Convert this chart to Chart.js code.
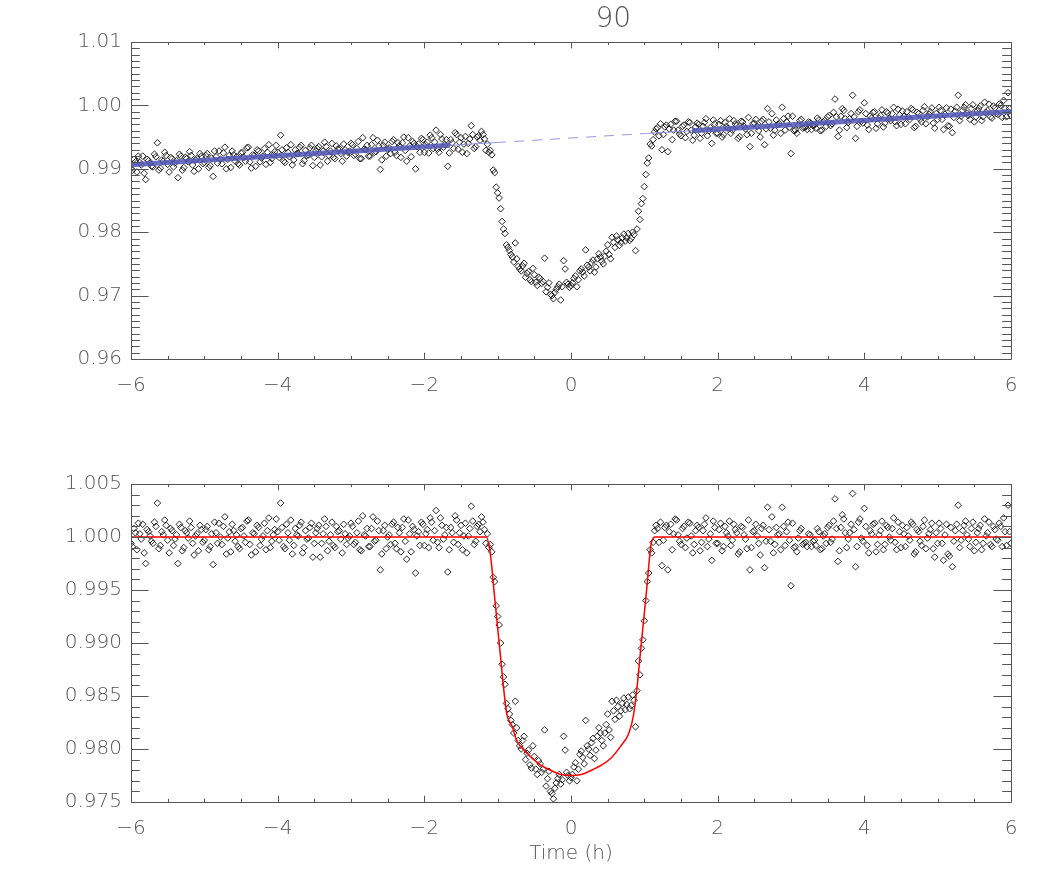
<!DOCTYPE html>
<html><head><meta charset="utf-8">
<script src="https://cdn.jsdelivr.net/npm/chart.js@4.4.1/dist/chart.umd.min.js"></script>
<style>
html,body{margin:0;padding:0;background:#fff;}
#wrap{position:relative;width:1050px;height:886px;background:#fff;}
.box{position:absolute;left:0;width:1050px;}
</style></head><body>
<div id="wrap">
<div class="box" style="top:0;height:420px"><canvas id="c1" width="1050" height="420"></canvas></div>
<div class="box" style="top:440px;height:446px"><canvas id="c2" width="1050" height="446"></canvas></div>
</div>
<script>
// ---------- data ----------
const chartTitle = '90';
const xAxisTitle = 'Time (h)';

// exposure set A
const timesA = [
-6,-5.96,-5.92,-5.88,-5.84,-5.8,-5.76,-5.72,-5.68,-5.64,-5.6,-5.56,-5.52,-5.48,-5.44,-5.4,-5.36,-5.32,-5.28,-5.24,-5.2,-5.16,-5.12,-5.08,-5.04,
-5,-4.96,-4.92,-4.88,-4.84,-4.8,-4.76,-4.72,-4.68,-4.64,-4.6,-4.56,-4.52,-4.48,-4.44,-4.4,-4.36,-4.32,-4.28,-4.24,-4.2,-4.16,-4.12,-4.08,-4.04,
-4,-3.96,-3.92,-3.88,-3.84,-3.8,-3.76,-3.72,-3.68,-3.64,-3.6,-3.56,-3.52,-3.48,-3.44,-3.4,-3.36,-3.32,-3.28,-3.24,-3.2,-3.16,-3.12,-3.08,-3.04,
-3,-2.96,-2.92,-2.88,-2.84,-2.8,-2.76,-2.72,-2.68,-2.64,-2.6,-2.56,-2.52,-2.48,-2.44,-2.4,-2.36,-2.32,-2.28,-2.24,-2.2,-2.16,-2.12,-2.08,-2.04,
-2,-1.96,-1.92,-1.88,-1.84,-1.8,-1.76,-1.72,-1.68,-1.64,-1.6,-1.56,-1.52,-1.48,-1.44,-1.4,-1.36,-1.32,-1.28,-1.24,-1.2,
-1.16,-1.12,-1.08,-1.04,-1,-0.96,-0.92,-0.88,-0.84,-0.8,-0.76,-0.72,-0.68,-0.64,-0.6,-0.56,-0.52,-0.48,-0.44,-0.4,-0.36,-0.32,-0.28,-0.24,-0.2,-0.16,-0.12,-0.08,-0.04,
0,0.04,0.08,0.12,0.16,0.2,0.24,0.28,0.32,0.36,0.4,0.44,0.48,0.52,0.56,0.6,0.64,0.68,0.72,0.76,0.8,0.84,0.88,0.92,0.96,1,1.04,1.08,1.12,1.16,
1.2,1.24,1.28,1.32,1.36,1.4,1.44,1.48,1.52,1.56,1.6,1.64,1.68,1.72,1.76,1.8,1.84,1.88,1.92,1.96,2,2.04,2.08,2.12,2.16,
2.2,2.24,2.28,2.32,2.36,2.4,2.44,2.48,2.52,2.56,2.6,2.64,2.68,2.72,2.76,2.8,2.84,2.88,2.92,2.96,3,3.04,3.08,3.12,3.16,
3.2,3.24,3.28,3.32,3.36,3.4,3.44,3.48,3.52,3.56,3.6,3.64,3.68,3.72,3.76,3.8,3.84,3.88,3.92,3.96,4,4.04,4.08,4.12,4.16,
4.2,4.24,4.28,4.32,4.36,4.4,4.44,4.48,4.52,4.56,4.6,4.64,4.68,4.72,4.76,4.8,4.84,4.88,4.92,4.96,5,5.04,5.08,5.12,5.16,
5.2,5.24,5.28,5.32,5.36,5.4,5.44,5.48,5.52,5.56,5.6,5.64,5.68,5.72,5.76,5.8,5.84,5.88,5.92,5.96,6
];
const rawFluxA = [
0.9900,0.9915,0.9895,0.9910,0.9920,0.9883,0.9913,0.9904,0.9923,0.9941,0.9901,0.9912,0.9921,0.9895,0.9916,0.9909,0.9886,0.9920,0.9902,0.9916,0.9927,0.9906,0.9914,0.9900,0.9920,
0.9910,0.9924,0.9905,0.9888,0.9919,0.9928,0.9908,0.9934,0.9915,0.9902,0.9922,0.9919,0.9906,0.9926,0.9912,0.9934,0.9901,0.9921,0.9930,0.9911,0.9920,0.9907,0.9938,0.9916,0.9927,
0.9926,0.9953,0.9912,0.9933,0.9919,0.9906,0.9930,0.9924,0.9937,0.9913,0.9921,0.9933,0.9905,0.9928,0.9935,0.9919,0.9942,0.9912,0.9928,0.9918,0.9936,0.9932,0.9912,0.9930,0.9926,
0.9940,0.9921,0.9932,0.9916,0.9949,0.9930,0.9920,0.9938,0.9926,0.9945,0.9899,0.9937,0.9920,0.9933,0.9943,0.9926,0.9941,0.9918,0.9950,0.9912,0.9936,0.9943,0.9900,0.9939,0.9948,
0.9926,0.9942,0.9953,0.9932,0.9961,0.9926,0.9947,0.9938,0.9904,0.9946,0.9932,0.9954,0.9942,0.9926,0.9951,0.9940,0.9968,0.9932,0.9950,0.9945,0.9954,
0.9929,0.9926,0.9922,0.9894,0.9862,0.9837,0.9805,0.9780,0.9771,0.9761,0.9783,0.9746,0.9739,0.9751,0.9735,0.9725,0.9743,0.9721,0.9729,0.9719,0.9759,0.9713,0.9702,0.9695,0.9710,0.9718,0.9714,0.9742,0.9718,
0.9716,0.9727,0.9714,0.9739,0.9737,0.9772,0.9745,0.9752,0.9737,0.9758,0.9761,0.9750,0.9770,0.9765,0.9792,0.9776,0.9788,0.9784,0.9797,0.9791,0.9787,0.9800,0.9771,0.9833,0.9845,0.9872,0.9909,0.9939,0.9946,0.9963,
0.9952,0.9930,0.9966,0.9927,0.9970,0.9961,0.9975,0.9955,0.9967,0.9949,0.9974,0.9961,0.9953,0.9972,0.9948,0.9967,0.9979,0.9960,0.9940,0.9971,0.9956,0.9976,0.9954,0.9967,0.9979,
0.9961,0.9971,0.9948,0.9975,0.9967,0.9954,0.9935,0.9971,0.9978,0.9960,0.9975,0.9938,0.9995,0.9964,0.9953,0.9977,0.9971,0.9997,0.9961,0.9983,0.9924,0.9960,0.9956,0.9976,0.9964,
0.9966,0.9974,0.9962,0.9969,0.9980,0.9960,0.9974,0.9967,0.9984,0.9971,1.0010,0.9951,0.9983,0.9992,0.9965,0.9979,1.0016,0.9948,0.9990,0.9975,1.0004,0.9969,0.9983,0.9989,0.9964,
0.9980,0.9993,0.9972,0.9988,0.9976,0.9997,0.9968,0.9985,0.9991,0.9971,0.9982,0.9995,0.9965,0.9989,0.9978,0.9992,0.9971,0.9986,0.9996,0.9964,0.9978,0.9992,0.9962,0.9996,0.9967,
0.9957,0.9991,1.0016,0.9983,0.9997,0.9988,0.9978,1.0001,0.9982,0.9995,0.9976,1.0005,0.9992,0.9982,0.9999,0.9987,1.0002,0.9981,0.9995,1.0020,0.9984
];
const normFluxA = [
0.9994,1.0008,0.9988,1.0003,1.0012,0.9975,1.0005,0.9996,1.0014,1.0032,0.9992,1.0002,1.0011,0.9985,1.0006,0.9998,0.9975,1.0009,0.9990,1.0004,1.0015,0.9994,1.0001,0.9987,1.0007,
0.9997,1.0010,0.9991,0.9974,1.0004,1.0013,0.9993,1.0019,0.9999,0.9986,1.0006,1.0002,0.9989,1.0009,0.9995,1.0016,0.9983,1.0003,1.0011,0.9992,1.0001,0.9988,1.0018,0.9996,1.0007,
1.0005,1.0032,0.9991,1.0012,0.9997,0.9984,1.0008,1.0001,1.0014,0.9990,0.9998,1.0009,0.9981,1.0004,1.0011,0.9994,1.0017,0.9987,1.0002,0.9992,1.0010,1.0006,0.9985,1.0003,0.9999,
1.0013,0.9993,1.0004,0.9988,1.0020,1.0001,0.9991,1.0008,0.9996,1.0015,0.9969,1.0006,0.9989,1.0002,1.0012,0.9994,1.0009,0.9986,1.0017,0.9979,1.0003,1.0010,0.9966,1.0005,1.0014,
0.9992,1.0007,1.0018,0.9997,1.0025,0.9990,1.0011,1.0002,0.9967,1.0009,0.9995,1.0016,1.0004,0.9988,1.0013,1.0001,1.0029,0.9993,1.0010,1.0005,1.0014,
0.9994,0.9990,0.9986,0.9958,0.9925,0.9900,0.9868,0.9843,0.9833,0.9823,0.9845,0.9808,0.9800,0.9812,0.9796,0.9785,0.9803,0.9781,0.9789,0.9778,0.9818,0.9772,0.9760,0.9753,0.9768,0.9776,0.9771,0.9799,0.9775,
0.9773,0.9783,0.9770,0.9795,0.9792,0.9827,0.9800,0.9806,0.9791,0.9812,0.9815,0.9803,0.9823,0.9818,0.9845,0.9828,0.9840,0.9836,0.9848,0.9842,0.9838,0.9851,0.9821,0.9883,0.9895,0.9921,0.9958,0.9988,0.9995,1.0011,
0.9995,0.9973,1.0009,0.9969,1.0012,1.0003,1.0016,0.9996,1.0008,0.9990,1.0014,1.0001,0.9993,1.0011,0.9987,1.0006,1.0018,0.9998,0.9978,1.0009,0.9994,1.0013,0.9991,1.0004,1.0015,
0.9997,1.0007,0.9984,1.0010,1.0002,0.9989,0.9969,1.0005,1.0012,0.9994,1.0008,0.9971,1.0028,0.9996,0.9985,1.0009,1.0003,1.0028,0.9992,1.0014,0.9954,0.9990,0.9986,1.0006,0.9993,
0.9995,1.0003,0.9991,0.9997,1.0008,0.9988,1.0001,0.9994,1.0011,0.9998,1.0036,0.9977,1.0009,1.0017,0.9990,1.0004,1.0041,0.9972,1.0014,0.9999,1.0027,0.9992,1.0006,1.0012,0.9986,
1.0002,1.0015,0.9993,1.0009,0.9997,1.0018,0.9988,1.0005,1.0011,0.9991,1.0001,1.0014,0.9984,1.0007,0.9996,1.0010,0.9989,1.0003,1.0013,0.9981,0.9994,1.0008,0.9978,1.0012,0.9982,
0.9972,1.0006,1.0030,0.9997,1.0011,1.0002,0.9991,1.0014,0.9995,1.0008,0.9988,1.0017,1.0004,0.9993,1.0010,0.9998,1.0013,0.9991,1.0005,1.0030,0.9994
];

// exposure set B
const timesB = [
-5.98,-5.94,-5.9,-5.86,-5.82,-5.78,-5.74,-5.7,-5.66,-5.62,-5.58,-5.54,-5.5,-5.46,-5.42,-5.38,-5.34,-5.3,-5.26,-5.22,-5.18,-5.14,-5.1,-5.06,-5.02,
-4.98,-4.94,-4.9,-4.86,-4.82,-4.78,-4.74,-4.7,-4.66,-4.62,-4.58,-4.54,-4.5,-4.46,-4.42,-4.38,-4.34,-4.3,-4.26,-4.22,-4.18,-4.14,-4.1,-4.06,-4.02,
-3.98,-3.94,-3.9,-3.86,-3.82,-3.78,-3.74,-3.7,-3.66,-3.62,-3.58,-3.54,-3.5,-3.46,-3.42,-3.38,-3.34,-3.3,-3.26,-3.22,-3.18,-3.14,-3.1,-3.06,-3.02,
-2.98,-2.94,-2.9,-2.86,-2.82,-2.78,-2.74,-2.7,-2.66,-2.62,-2.58,-2.54,-2.5,-2.46,-2.42,-2.38,-2.34,-2.3,-2.26,-2.22,-2.18,-2.14,-2.1,-2.06,-2.02,
-1.98,-1.94,-1.9,-1.86,-1.82,-1.78,-1.74,-1.7,-1.66,-1.62,-1.58,-1.54,-1.5,-1.46,-1.42,-1.38,-1.34,-1.3,-1.26,-1.22,-1.18,
-1.14,-1.1,-1.06,-1.02,-0.98,-0.94,-0.9,-0.86,-0.82,-0.78,-0.74,-0.7,-0.66,-0.62,-0.58,-0.54,-0.5,-0.46,-0.42,-0.38,-0.34,-0.3,-0.26,-0.22,-0.18,-0.14,-0.1,-0.06,-0.02,
0.02,0.06,0.1,0.14,0.18,0.22,0.26,0.3,0.34,0.38,0.42,0.46,0.5,0.54,0.58,0.62,0.66,0.7,0.74,0.78,0.82,0.86,0.9,0.94,0.98,1.02,1.06,1.1,1.14,
1.18,1.22,1.26,1.3,1.34,1.38,1.42,1.46,1.5,1.54,1.58,1.62,1.66,1.7,1.74,1.78,1.82,1.86,1.9,1.94,1.98,2.02,2.06,2.1,2.14,
2.18,2.22,2.26,2.3,2.34,2.38,2.42,2.46,2.5,2.54,2.58,2.62,2.66,2.7,2.74,2.78,2.82,2.86,2.9,2.94,2.98,3.02,3.06,3.1,3.14,
3.18,3.22,3.26,3.3,3.34,3.38,3.42,3.46,3.5,3.54,3.58,3.62,3.66,3.7,3.74,3.78,3.82,3.86,3.9,3.94,3.98,4.02,4.06,4.1,4.14,
4.18,4.22,4.26,4.3,4.34,4.38,4.42,4.46,4.5,4.54,4.58,4.62,4.66,4.7,4.74,4.78,4.82,4.86,4.9,4.94,4.98,5.02,5.06,5.1,5.14,
5.18,5.22,5.26,5.3,5.34,5.38,5.42,5.46,5.5,5.54,5.58,5.62,5.66,5.7,5.74,5.78,5.82,5.86,5.9,5.94,5.98
];
const rawFluxB = [
0.9898,0.9911,0.9920,0.9906,0.9893,0.9915,0.9909,0.9903,0.9919,0.9898,0.9914,0.9926,0.9907,0.9918,0.9903,0.9913,0.9923,0.9898,0.9918,0.9911,0.9921,0.9896,0.9916,0.9924,0.9908,
0.9921,0.9902,0.9917,0.9928,0.9909,0.9915,0.9925,0.9900,0.9921,0.9928,0.9912,0.9908,0.9925,0.9918,0.9933,0.9911,0.9922,0.9904,0.9928,0.9917,0.9932,0.9926,0.9910,0.9922,0.9937,
0.9918,0.9930,0.9910,0.9926,0.9938,0.9914,0.9924,0.9934,0.9908,0.9929,0.9922,0.9937,0.9918,0.9932,0.9906,0.9928,0.9935,0.9921,0.9940,0.9916,0.9931,0.9924,0.9939,0.9920,0.9928,
0.9938,0.9923,0.9943,0.9916,0.9931,0.9937,0.9920,0.9949,0.9927,0.9936,0.9914,0.9942,0.9931,0.9924,0.9946,0.9921,0.9936,0.9941,0.9929,0.9949,0.9919,0.9940,0.9935,0.9926,0.9946,
0.9938,0.9925,0.9949,0.9942,0.9931,0.9954,0.9934,0.9946,0.9925,0.9941,0.9957,0.9931,0.9949,0.9939,0.9924,0.9947,0.9954,0.9935,0.9952,0.9959,0.9947,
0.9939,0.9929,0.9898,0.9871,0.9854,0.9817,0.9798,0.9776,0.9765,0.9753,0.9758,0.9742,0.9747,0.9729,0.9738,0.9722,0.9733,0.9716,0.9727,0.9722,0.9706,0.9720,0.9700,0.9705,0.9714,0.9693,0.9755,0.9721,0.9713,
0.9720,0.9731,0.9725,0.9742,0.9731,0.9748,0.9739,0.9756,0.9745,0.9766,0.9754,0.9762,0.9780,0.9758,0.9784,0.9794,0.9779,0.9791,0.9786,0.9798,0.9790,0.9796,0.9805,0.9820,0.9853,0.9891,0.9917,0.9936,0.9958,
0.9965,0.9971,0.9954,0.9969,0.9963,0.9946,0.9975,0.9961,0.9952,0.9969,0.9959,0.9973,0.9945,0.9966,0.9970,0.9956,0.9973,0.9952,0.9965,0.9977,0.9956,0.9970,0.9950,0.9973,0.9964,
0.9956,0.9976,0.9968,0.9951,0.9974,0.9963,0.9981,0.9956,0.9972,0.9967,0.9950,0.9978,0.9963,0.9974,0.9987,0.9961,0.9970,0.9956,0.9979,0.9974,0.9966,0.9983,0.9961,0.9969,0.9978,
0.9965,0.9962,0.9973,0.9968,0.9964,0.9977,0.9961,0.9976,0.9982,0.9968,0.9989,0.9982,0.9961,0.9995,0.9979,0.9973,0.9987,0.9982,0.9967,0.9993,0.9972,0.9987,0.9962,0.9980,0.9990,
0.9971,0.9984,0.9966,0.9990,0.9979,0.9987,0.9974,0.9994,0.9970,0.9983,0.9990,0.9978,0.9993,0.9967,0.9987,0.9974,0.9998,0.9982,0.9990,0.9972,0.9987,0.9997,0.9978,0.9986,0.9968,
0.9994,0.9981,0.9997,0.9976,0.9992,1.0001,0.9984,0.9995,0.9974,0.9991,0.9999,0.9982,0.9989,1.0002,0.9980,0.9996,0.9986,1.0000,1.0008,0.9982,0.9995
];
const normFluxB = [
0.9991,1.0004,1.0013,0.9998,0.9985,1.0007,1.0001,0.9994,1.0010,0.9989,1.0005,1.0016,0.9997,1.0008,0.9992,1.0002,1.0012,0.9987,1.0006,0.9999,1.0009,0.9983,1.0003,1.0011,0.9995,
1.0007,0.9988,1.0003,1.0014,0.9994,1.0000,1.0010,0.9984,1.0005,1.0012,0.9996,0.9991,1.0008,1.0001,1.0015,0.9993,1.0004,0.9986,1.0009,0.9998,1.0013,1.0006,0.9990,1.0002,1.0017,
0.9997,1.0009,0.9989,1.0004,1.0016,0.9992,1.0002,1.0011,0.9985,1.0006,0.9999,1.0013,0.9994,1.0008,0.9981,1.0003,1.0010,0.9996,1.0014,0.9990,1.0005,0.9998,1.0012,0.9993,1.0001,
1.0010,0.9995,1.0015,0.9987,1.0002,1.0008,0.9991,1.0019,0.9997,1.0006,0.9984,1.0011,1.0000,0.9993,1.0014,0.9989,1.0004,1.0009,0.9996,1.0016,0.9986,1.0007,1.0001,0.9992,1.0012,
1.0003,0.9990,1.0014,1.0006,0.9995,1.0018,0.9998,1.0009,0.9988,1.0004,1.0020,0.9993,1.0011,1.0001,0.9985,1.0008,1.0015,0.9996,1.0012,1.0019,1.0007,
1.0003,0.9993,0.9962,0.9935,0.9917,0.9880,0.9861,0.9838,0.9827,0.9815,0.9820,0.9803,0.9808,0.9790,0.9799,0.9782,0.9793,0.9776,0.9786,0.9781,0.9765,0.9779,0.9758,0.9763,0.9772,0.9767,0.9812,0.9778,0.9770,
0.9776,0.9787,0.9781,0.9798,0.9786,0.9803,0.9794,0.9810,0.9799,0.9820,0.9808,0.9815,0.9833,0.9811,0.9836,0.9846,0.9831,0.9843,0.9837,0.9849,0.9841,0.9846,0.9855,0.9870,0.9903,0.9940,0.9966,0.9985,1.0006,
1.0008,1.0014,0.9997,1.0011,1.0005,0.9988,1.0017,1.0002,0.9993,1.0010,0.9999,1.0013,0.9985,1.0006,1.0009,0.9995,1.0012,0.9991,1.0003,1.0015,0.9994,1.0007,0.9987,1.0010,1.0001,
0.9992,1.0012,1.0004,0.9986,1.0009,0.9998,1.0016,0.9990,1.0006,1.0001,0.9983,1.0011,0.9996,1.0007,1.0019,0.9993,1.0002,0.9988,1.0010,1.0005,0.9997,1.0013,0.9991,0.9999,1.0008,
0.9994,0.9991,1.0002,0.9996,0.9992,1.0005,0.9989,1.0003,1.0009,0.9995,1.0015,1.0008,0.9987,1.0021,1.0004,0.9998,1.0012,1.0007,0.9991,1.0017,0.9996,1.0010,0.9985,1.0003,1.0013,
0.9993,1.0006,0.9988,1.0011,1.0000,1.0008,0.9995,1.0014,0.9990,1.0003,1.0009,0.9997,1.0012,0.9986,1.0005,0.9992,1.0016,0.9999,1.0007,0.9989,1.0004,1.0013,0.9994,1.0002,0.9984,
1.0009,0.9996,1.0012,0.9990,1.0006,1.0015,0.9998,1.0008,0.9987,1.0004,1.0011,0.9994,1.0001,1.0014,0.9991,1.0007,0.9997,1.0010,1.0018,0.9992,1.0005
];

// linear baseline fit (top panel)
const fitTimesLeft  = [-6, -1.65];
const fitLeft       = [0.99065, 0.99370];
const fitTimesRight = [1.65, 6];
const fitRight      = [0.99601, 0.99905];
const gapTimesLeft  = [-1.65, -1.02];
const gapLeft       = [0.99370, 0.99414];
const gapTimesMid   = [-1.02, 1.04];
const gapMid        = [0.99414, 0.99558];
const gapTimesRight = [1.04, 1.65];
const gapRight      = [0.99558, 0.99601];

// transit model (bottom panel)
const modelTimes = [-6,-1.155,-1.10,-1.055,-1.01,-0.965,-0.92,-0.875,-0.80,-0.74,-0.60,-0.42,-0.28,-0.14,0,0.14,0.28,0.42,0.54,0.67,0.79,0.855,0.90,0.945,0.99,1.035,1.09,1.15,6];
const modelFlux  = [1,1,0.9984,0.9953,0.9921,0.9890,0.9858,0.9833,0.9821,0.9808,0.9796,0.9785,0.9780,0.9776,0.9775,0.9776,0.9780,0.9785,0.9791,0.9802,0.9815,0.9833,0.9858,0.9890,0.9921,0.9953,0.9992,1,1];

// axis ticks
const xTickStep = 2, xMinorStep = 0.5;
const topYMin = 0.96, topYMax = 1.01, topYStep = 0.01, topYMinor = 0.001;
const botYMin = 0.975, botYMax = 1.005, botYStep = 0.005, botYMinor = 0.001;

// ---------- helpers ----------
const pts = (xs, ys) => xs.map((x, i) => ({x, y: ys[i]}));
const FONT = {family: "'DejaVu Sans', 'Liberation Sans', sans-serif", size: 20, weight: '200'};
const TXT = '#555';
const AX = '#555';

const frameTicks = {
  id: 'frameTicks',
  afterDatasetsDraw(chart, args, o) {
    const {ctx, chartArea: a, scales: {x, y}} = chart;
    ctx.save();
    ctx.strokeStyle = AX; ctx.lineWidth = 1;
    ctx.beginPath();
    ctx.rect(Math.round(a.left) + 0.5, Math.round(a.top) + 0.5, Math.round(a.right - a.left), Math.round(a.bottom - a.top));
    const xLen = (a.bottom - a.top) * 0.02, yLen = (a.right - a.left) * 0.02;
    const nx = Math.round((x.max - x.min) / o.xMinor);
    for (let i = 0; i <= nx; i++) {
      const v = x.min + i * o.xMinor;
      const px = Math.round(x.getPixelForValue(v)) + 0.5;
      const r = v / o.xMajor, major = Math.abs(r - Math.round(r)) < 1e-6;
      const L = major ? xLen : xLen / 2;
      ctx.moveTo(px, a.bottom); ctx.lineTo(px, a.bottom - L);
      ctx.moveTo(px, a.top); ctx.lineTo(px, a.top + L);
    }
    const ny = Math.round((y.max - y.min) / o.yMinor);
    const nPer = Math.round(o.yMajor / o.yMinor);
    for (let i = 0; i <= ny; i++) {
      const v = y.min + i * o.yMinor;
      const py = Math.round(y.getPixelForValue(v)) + 0.5;
      const L = (i % nPer === 0) ? yLen : yLen / 2;
      ctx.moveTo(a.left, py); ctx.lineTo(a.left + L, py);
      ctx.moveTo(a.right, py); ctx.lineTo(a.right - L, py);
    }
    ctx.stroke();
    ctx.restore();
  }
};

const titleText = {
  id: 'titleText',
  afterDraw(chart, args, o) {
    if (!o || !o.text) return;
    const {ctx, chartArea: a} = chart;
    ctx.save();
    ctx.fillStyle = TXT;
    ctx.font = "200 28px 'DejaVu Sans', sans-serif";
    ctx.textAlign = 'center'; ctx.textBaseline = 'middle';
    ctx.fillText(o.text, a.left + (a.right - a.left) * 0.548, 20);
    ctx.restore();
  }
};

const scatterStyle = {
  type: 'scatter', showLine: false, pointStyle: 'rectRot', pointRadius: 3.3,
  pointHoverRadius: 3.3, borderColor: '#111', backgroundColor: 'rgba(0,0,0,0)',
  pointBorderWidth: 0.9, borderWidth: 0.9, order: 2
};
const lineStyle = (color, width, dash) => ({
  type: 'scatter', showLine: true, pointRadius: 0, pointHoverRadius: 0,
  borderColor: color, backgroundColor: color, borderWidth: width, borderDash: dash || [], order: 1
});

const xScale = (height, titleOpts) => ({
  type: 'linear', min: -6, max: 6,
  border: {display: false}, grid: {display: false, drawTicks: false},
  ticks: {stepSize: xTickStep, padding: 15, color: TXT, font: FONT, maxRotation: 0, autoSkip: false,
          callback: v => v < 0 ? '\u2212' + Math.abs(v) : String(v)},
  title: titleOpts || {display: false},
  afterFit: s => { s.height = height; }
});
const yScale = (min, max, step, digits) => ({
  type: 'linear', min, max,
  border: {display: false}, grid: {display: false, drawTicks: false},
  ticks: {stepSize: step, padding: 9, color: TXT, font: FONT, autoSkip: false,
          callback: v => Number(v).toFixed(digits)},
  afterFit: s => { s.width = 131; }
});

const common = {responsive: false, animation: false, devicePixelRatio: 1, events: []};

new Chart(document.getElementById('c1'), {
  type: 'scatter',
  data: {datasets: [
    Object.assign({label: 'raw A', data: pts(timesA, rawFluxA)}, scatterStyle),
    Object.assign({label: 'raw B', data: pts(timesB, rawFluxB)}, scatterStyle),
    Object.assign({label: 'fitL', data: pts(fitTimesLeft, fitLeft)}, lineStyle('rgba(80,86,182,0.85)', 5)),
    Object.assign({label: 'fitR', data: pts(fitTimesRight, fitRight)}, lineStyle('rgba(80,86,182,0.85)', 5)),
    Object.assign({label: 'gapL', data: pts(gapTimesLeft, gapLeft)}, lineStyle('rgba(140,140,225,0.9)', 1)),
    Object.assign({label: 'gapM', data: pts(gapTimesMid, gapMid)}, lineStyle('rgba(140,140,225,0.9)', 1, [10, 8])),
    Object.assign({label: 'gapR', data: pts(gapTimesRight, gapRight)}, lineStyle('rgba(140,140,225,0.9)', 1))
  ]},
  options: Object.assign({}, common, {
    layout: {padding: {left: 0, right: 39, top: 42, bottom: 0}},
    scales: {x: xScale(61), y: yScale(topYMin, topYMax, topYStep, 2)},
    plugins: {legend: {display: false}, tooltip: {enabled: false},
      frameTicks: {xMajor: xTickStep, xMinor: xMinorStep, yMajor: topYStep, yMinor: topYMinor},
      titleText: {text: chartTitle}}
  }),
  plugins: [frameTicks, titleText]
});

new Chart(document.getElementById('c2'), {
  type: 'scatter',
  data: {datasets: [
    Object.assign({label: 'norm A', data: pts(timesA, normFluxA)}, scatterStyle),
    Object.assign({label: 'norm B', data: pts(timesB, normFluxB)}, scatterStyle),
    Object.assign({label: 'model', data: pts(modelTimes, modelFlux), cubicInterpolationMode: 'monotone'}, lineStyle('rgb(255,0,0)', 1.5))
  ]},
  options: Object.assign({}, common, {
    layout: {padding: {left: 0, right: 39, top: 44, bottom: 0}},
    scales: {x: xScale(84, {display: true, text: xAxisTitle, color: TXT, font: FONT, padding: {top: 4, bottom: 20}}),
             y: yScale(botYMin, botYMax, botYStep, 3)},
    plugins: {legend: {display: false}, tooltip: {enabled: false},
      frameTicks: {xMajor: xTickStep, xMinor: xMinorStep, yMajor: botYStep, yMinor: botYMinor},
      titleText: {text: ''}}
  }),
  plugins: [frameTicks, titleText]
});
</script>
</body></html>
